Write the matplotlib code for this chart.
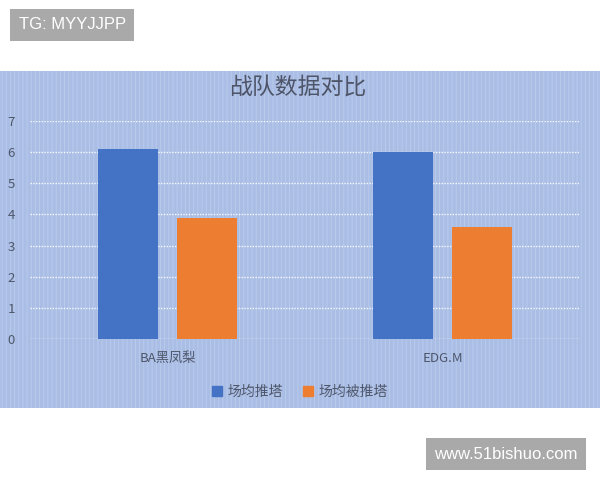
import matplotlib.pyplot as plt
from matplotlib.patches import Rectangle, Patch

plt.rcParams['font.family'] = ['Noto Sans CJK SC', 'DejaVu Sans']
plt.rcParams['hatch.linewidth'] = 0.6

# data
teams = ["BA黑凤梨", "EDG.M"]
avg_push = [6.1, 6.0]
avg_pushed = [3.9, 3.6]
series_names = ["场均推塔", "场均被推塔"]
yticks = list(range(0, 8))

BLUE = "#4472c4"
ORANGE = "#ed7d31"
TXT = "#4e566a"

fig = plt.figure(figsize=(6, 4.8), dpi=100)
fig.patch.set_facecolor("white")

# blue textured panel behind the chart
panel = Rectangle((0, 0.15), 1, 0.702, transform=fig.transFigure,
                  facecolor="#a9bde5", edgecolor="#bccdec", hatch="||||",
                  linewidth=0, zorder=-10)
fig.patches.append(panel)

ax = fig.add_axes([0.05, 0.29375, 0.9167, 0.4542])
ax.set_facecolor("none")

x = range(len(teams))
w = 0.218
off = 0.1436
ax.bar([i - off for i in x], avg_push, width=w, color=BLUE, zorder=3, label=series_names[0])
ax.bar([i + off for i in x], avg_pushed, width=w, color=ORANGE, zorder=3, label=series_names[1])

ax.set_xlim(-0.5, 1.5)
ax.set_ylim(0, 7)
ax.set_yticks(yticks)
ax.set_xticks(list(x))
ax.set_xticklabels(teams)

for y in yticks[1:]:
    ax.axhline(y, color="white", linewidth=1.0, linestyle=(0, (1, 1)), alpha=0.9, zorder=1)
ax.axhline(0, color="#e8eef8", linewidth=1.0, zorder=2)

for s in ax.spines.values():
    s.set_visible(False)
ax.tick_params(axis="y", length=0, pad=11, labelsize=9.5, labelcolor=TXT)
ax.tick_params(axis="x", length=0, pad=9, labelsize=9.5, labelcolor=TXT)

fig.text(0.497, 0.818, "战队数据对比", ha="center", va="center", fontsize=16.5, color="#4f5568")

handles = [Patch(color=BLUE), Patch(color=ORANGE)]
fig.legend(handles, series_names, loc="center", bbox_to_anchor=(0.5, 0.183), ncol=2,
           frameon=False, fontsize=10, labelcolor=TXT, handlelength=0.7, handleheight=0.7,
           handletextpad=0.4, columnspacing=1.5)

# watermarks
fig.text(0.1205, 0.948, "TG: MYYJJPP", ha="center", va="center", fontsize=12, color="white",
         family="Liberation Sans",
         bbox=dict(boxstyle="square,pad=0.5", facecolor="#a9a9a9", edgecolor="none"))
fig.text(0.8433, 0.0535, "www.51bishuo.com", ha="center", va="center", fontsize=12, color="white",
         family="Liberation Sans",
         bbox=dict(boxstyle="square,pad=0.5", facecolor="#a9a9a9", edgecolor="none"))

fig.savefig("out.png", dpi=100)
